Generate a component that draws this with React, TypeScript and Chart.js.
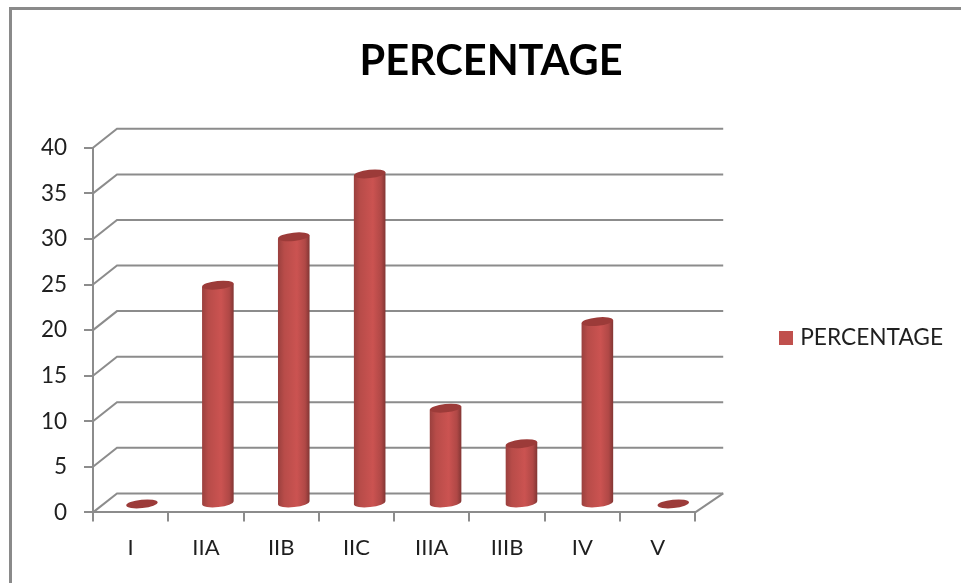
import React, { useEffect, useRef } from "react";
import { Chart, registerables } from "chart.js";

Chart.register(...registerables);

const categories = ["I", "IIA", "IIB", "IIC", "IIIA", "IIIB", "IV", "V"];
const percentage = [0, 24, 29.3, 36.2, 10.5, 6.6, 20, 0];
const seriesName = "PERCENTAGE";
const axisMax = 40;
const axisStep = 5;

const FONT = "Lato, Calibri, sans-serif";
const GRID = "#8c8c8c";
const TEXT = "#1f1f1f";
const RED = "#C0504D";

// Perspective offsets of the 3D box: back wall and bar row widen towards the right.
const WALL_DX_LEFT = 24;
const WALL_DX_RIGHT = 28;
const WALL_DY = -19;
const ROW_DX_LEFT = 11;
const ROW_DX_RIGHT = 16;
const ROW_DY = -8.5;
const CAP_RY = 4.2;
const TILT = (-6 * Math.PI) / 180;

// Legend swatch, a bitmap so it can sit closer to the label than the default gap.
function makeSwatch() {
  const swatch = document.createElement("canvas");
  swatch.width = 14;
  swatch.height = 14;
  const g = swatch.getContext("2d") as CanvasRenderingContext2D;
  g.fillStyle = RED;
  g.fillRect(0, 0, 14, 14);
  return swatch;
}

const box3d = {
  id: "box3d",
  beforeDraw(chart: any) {
    const { ctx, width, height } = chart;
    ctx.save();
    ctx.fillStyle = "#ffffff";
    ctx.fillRect(0, 0, width, height);
    ctx.strokeStyle = "#8a8a8a";
    ctx.lineWidth = 3;
    ctx.beginPath();
    ctx.moveTo(10.5, height);
    ctx.lineTo(10.5, 8.5);
    ctx.lineTo(width, 8.5);
    ctx.stroke();
    ctx.restore();
  },
  beforeDatasetsDraw(chart: any) {
    const { ctx, chartArea, scales } = chart;
    const { left, right, bottom } = chartArea;
    ctx.save();
    ctx.strokeStyle = GRID;
    ctx.lineWidth = 2;
    for (const tick of scales.y.ticks) {
      const y = scales.y.getPixelForValue(tick.value);
      ctx.beginPath();
      ctx.moveTo(left, y);
      ctx.lineTo(left + WALL_DX_LEFT, y + WALL_DY);
      ctx.lineTo(right + WALL_DX_RIGHT, y + WALL_DY);
      ctx.stroke();
    }
    ctx.beginPath();
    ctx.moveTo(right, bottom);
    ctx.lineTo(right + WALL_DX_RIGHT, bottom + WALL_DY);
    ctx.stroke();
    ctx.restore();
  },
  beforeDatasetDraw(chart: any, args: any) {
    const { ctx, chartArea } = chart;
    const { left, right } = chartArea;
    for (const bar of args.meta.data) {
      const along = (bar.x - left) / (right - left);
      const cx = bar.x + ROW_DX_LEFT + (ROW_DX_RIGHT - ROW_DX_LEFT) * along;
      const half = bar.width / 2;
      const topY = bar.y + ROW_DY;
      const baseY = bar.base + ROW_DY;
      ctx.save();
      if (baseY - topY > 0.5) {
        const shade = ctx.createLinearGradient(cx - half, 0, cx + half, 0);
        shade.addColorStop(0, "#9a403e");
        shade.addColorStop(0.2, "#b84c49");
        shade.addColorStop(0.6, "#cb5351");
        shade.addColorStop(0.86, "#b04846");
        shade.addColorStop(1, "#823634");
        const dy = half * Math.sin(TILT);
        ctx.fillStyle = shade;
        ctx.beginPath();
        ctx.moveTo(cx - half, topY - dy);
        ctx.lineTo(cx + half, topY + dy);
        ctx.lineTo(cx + half, baseY + dy);
        ctx.ellipse(cx, baseY, half, CAP_RY, TILT, 0, Math.PI);
        ctx.closePath();
        ctx.fill();
      }
      ctx.fillStyle = "#9c3b39";
      ctx.beginPath();
      ctx.ellipse(cx, topY, half, CAP_RY, TILT, 0, Math.PI * 2);
      ctx.fill();
      ctx.restore();
    }
    return false;
  },
};

export default function App() {
  const canvasRef = useRef<HTMLCanvasElement | null>(null);

  useEffect(() => {
    document.body.style.margin = "0";
    const chart = new Chart(canvasRef.current as HTMLCanvasElement, {
      type: "bar",
      data: {
        labels: categories,
        datasets: [
          {
            label: seriesName,
            data: percentage,
            backgroundColor: RED,
            barPercentage: 0.42,
            categoryPercentage: 1,
          },
        ],
      },
      plugins: [box3d],
      options: {
        animation: false,
        responsive: false,
        layout: { padding: { left: 29, right: 8, top: 0, bottom: 10 } },
        plugins: {
          tooltip: { enabled: false },
          title: {
            display: true,
            text: seriesName,
            color: "#000000",
            font: { family: FONT, size: 41.5, weight: "bold", lineHeight: 1.2 },
            padding: { top: 37, bottom: 61 },
          },
          legend: {
            position: "right",
            fullSize: false,
            maxWidth: 220,
            title: { display: true, text: " ", font: { size: 13 }, padding: 0 },
            labels: {
              color: TEXT,
              font: { family: FONT, size: 22.7 },
              usePointStyle: true,
              pointStyle: makeSwatch(),
              pointStyleWidth: 6,
              boxHeight: 14,
              padding: 18,
            },
          },
        },
        scales: {
          x: {
            grid: { drawOnChartArea: false, color: GRID, lineWidth: 2, tickLength: 9 },
            border: { color: GRID, width: 2 },
            ticks: { color: TEXT, font: { family: FONT, size: 22 }, padding: 13, maxRotation: 0 },
            afterFit: (s: any) => {
              s.height = 60.6;
            },
          },
          y: {
            min: 0,
            max: axisMax,
            grid: { drawOnChartArea: false, color: GRID, lineWidth: 2, tickLength: 9 },
            border: { color: GRID, width: 2 },
            ticks: { stepSize: axisStep, color: TEXT, font: { family: FONT, size: 22.5 }, padding: 17 },
            afterFit: (s: any) => {
              s.width = 64;
            },
          },
          // Empty right-hand gutter that keeps the legend clear of the 3D box.
          gutter: {
            type: "linear",
            position: "right",
            grid: { display: false },
            border: { display: false },
            ticks: { display: false },
            afterFit: (s: any) => {
              s.width = 69.65;
            },
          },
        },
      },
    } as any);
    return () => chart.destroy();
  }, []);

  return <canvas ref={canvasRef} width={961} height={583} style={{ display: "block" }} />;
}
